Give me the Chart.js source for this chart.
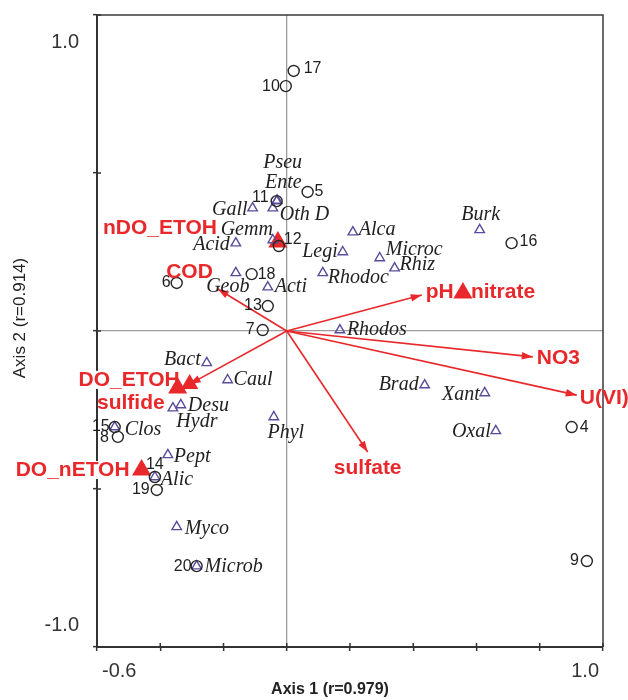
<!DOCTYPE html>
<html>
<head>
<meta charset="utf-8">
<script src="https://cdn.jsdelivr.net/npm/chart.js@4.4.1/dist/chart.umd.min.js"></script>
<style>
html,body{margin:0;padding:0;background:#fff;}
#wrap{width:628px;height:700px;}
</style>
</head>
<body>
<div id="wrap"><canvas id="c" width="628" height="700"></canvas></div>
<script>
// ---- data ----
const siteLabels = ['4','5','6','7','8','9','10','11','12','13','14','15','16','17','18','19','20'];
const siteX = [0.901, 0.066, -0.348, -0.076, -0.534, 0.949, -0.003, -0.032, -0.025, -0.060, -0.417, -0.544, 0.711, 0.022, -0.111, -0.411, -0.285];
const siteY = [-0.304, 0.440, 0.152, 0.003, -0.335, -0.728, 0.775, 0.411, 0.269, 0.079, -0.462, -0.304, 0.278, 0.823, 0.180, -0.503, -0.744];

const speciesLabels = ['Pseu','Ente','Gall','Oth D','Gemm','Acid','Legi','Alca','Microc','Rhiz','Rhodoc','Burk','Geob','Acti','Rhodos','Bact','Caul','Desu','Hydr','Phyl','Clos','Pept','Alic','Myco','Microb','Brad','Xant','Oxal'];
const speciesX = [-0.032, -0.030, -0.108, -0.044, -0.044, -0.161, 0.177, 0.209, 0.294, 0.341, 0.114, 0.610, -0.161, -0.060, 0.168, -0.253, -0.187, -0.335, -0.360, -0.041, -0.544, -0.376, -0.417, -0.348, -0.285, 0.436, 0.626, 0.661];
const speciesY = [0.411, 0.413, 0.389, 0.389, 0.288, 0.278, 0.250, 0.313, 0.231, 0.199, 0.184, 0.320, 0.184, 0.139, 0.003, -0.101, -0.155, -0.234, -0.244, -0.272, -0.304, -0.392, -0.462, -0.620, -0.744, -0.171, -0.196, -0.316];

const arrowLabels = ['COD','pH','NO3','U(VI)','sulfate','sulfide'];
const arrowX = [-0.218, 0.427, 0.778, 0.917, 0.256, -0.307];
const arrowY = [0.133, 0.114, -0.082, -0.203, -0.383, -0.168];
const filledTipArrows = ['sulfide'];

const centroidLabels = ['nDO_ETOH','nitrate','DO_ETOH','DO_nETOH'];
const centroidX = [-0.028, 0.557, -0.345, -0.459];
const centroidY = [0.282, 0.120, -0.180, -0.440];

const xTickLabels = ['-0.6','1.0'];
const yTickLabels = ['1.0','-1.0'];
const xAxisTitle = 'Axis 1 (r=0.979)';
const yAxisTitle = 'Axis 2 (r=0.914)';

// ---- label layout (pixel offsets from each mark) ----
const siteLabelPos = {
  '4':[8,1,'left'], '5':[7,0,'left'], '6':[-6,0,'right'], '7':[-8,0,'right'], '8':[-9,1,'right'],
  '9':[-8,0,'right'], '10':[-6,0,'right'], '11':[-8,-4,'right'], '12':[5,-6,'left'], '13':[-6,0,'right'],
  '14':[0,-12,'center'], '15':[-5,0,'right'], '16':[8,-2,'left'], '17':[10,-2,'left'], '18':[6,0,'left'],
  '19':[-7,0,'right'], '20':[-5,0,'right']
};
const speciesLabelPos = {
  'Pseu':[6,-38,'center'], 'Ente':[6,-18,'center'], 'Gall':[-5,2,'right'], 'Oth D':[7,7,'left'],
  'Gemm':[0,-10,'right'], 'Acid':[-6,2,'right'], 'Legi':[-5,0,'right'], 'Alca':[6,-2,'left'],
  'Microc':[6,-8,'left'], 'Rhiz':[5,-3,'left'], 'Rhodoc':[5,5,'left'], 'Burk':[1,-15,'center'],
  'Geob':[-8,14,'center'], 'Acti':[7,0,'left'], 'Rhodos':[7,0,'left'], 'Bact':[-6,-3,'right'],
  'Caul':[6,0,'left'], 'Desu':[7,1,'left'], 'Hydr':[24,14,'center'], 'Phyl':[12,16,'center'],
  'Clos':[10,3,'left'], 'Pept':[6,2,'left'], 'Alic':[6,3,'left'], 'Myco':[8,2,'left'],
  'Microb':[8,1,'left'], 'Brad':[-6,0,'right'], 'Xant':[-5,2,'right'], 'Oxal':[-5,1,'right']
};
const arrowLabelPos = {
  'COD':[-5,-17,'right'], 'pH':[4,-3,'left'], 'NO3':[4,1,'left'], 'U(VI)':[3,3,'left'],
  'sulfate':[0,16,'center'], 'sulfide':[-25,19,'right']
};
const centroidLabelPos = {
  'nDO_ETOH':[-61,-14,'right'], 'nitrate':[8,-1,'left'], 'DO_ETOH':[2,-8,'right'], 'DO_nETOH':[-12,0,'right']
};
const whiteBacked = ['DO_ETOH','DO_nETOH'];

const RED = '#e8282b';
const PURPLE = '#5a4c9c';
const SANS = '"Liberation Sans", Arial, sans-serif';
const SERIF = '"Liberation Serif", "Times New Roman", serif';
const ENV_FONT = 'bold 21px ' + SANS;

const toPts = (xs, ys) => xs.map((x, i) => ({x: x, y: ys[i]}));

const datasets = [];
datasets.push({label:'sites', data: toPts(siteX, siteY), pointStyle:'circle', pointRadius:5.5, pointHoverRadius:5.5,
  borderColor:'#262626', backgroundColor:'rgba(0,0,0,0)', borderWidth:1.4});
datasets.push({label:'species', data: toPts(speciesX, speciesY), pointStyle:'triangle', pointRadius:5.5, pointHoverRadius:5.5,
  borderColor:PURPLE, backgroundColor:'rgba(0,0,0,0)', borderWidth:1.4});
datasets.push({label:'centroids', data: toPts(centroidX, centroidY), pointStyle:'triangle', pointRadius:11, pointHoverRadius:11,
  borderColor:RED, backgroundColor:RED, borderWidth:0});
const tipIdx = arrowLabels.map((n, i) => i).filter(i => filledTipArrows.includes(arrowLabels[i]));
datasets.push({label:'tips', data: tipIdx.map(i => ({x: arrowX[i], y: arrowY[i]})), pointStyle:'triangle', pointRadius:10, pointHoverRadius:10,
  borderColor:RED, backgroundColor:RED, borderWidth:0});
const arrowStart = datasets.length;
arrowLabels.forEach((name, i) => {
  datasets.push({label:'arrow:' + name, data:[{x:0, y:0}, {x: arrowX[i], y: arrowY[i]}], showLine:true,
    borderColor:RED, borderWidth:1.6, pointRadius:0, pointHoverRadius:0, fill:false});
});

const isZero = v => Math.abs(v) < 1e-9;

const decorPlugin = {
  id: 'decor',
  beforeDatasetsDraw(chart) {
    const {ctx, chartArea: a, scales} = chart;
    ctx.save();
    ctx.strokeStyle = '#3a3a3a';
    ctx.lineWidth = 1.5;
    ctx.beginPath();
    ctx.moveTo(a.left, a.top); ctx.lineTo(a.right, a.top); ctx.lineTo(a.right, a.bottom);
    ctx.stroke();
    ctx.strokeStyle = '#333';
    ctx.lineWidth = 1.5;
    scales.x.ticks.forEach(t => {
      const px = scales.x.getPixelForValue(t.value);
      ctx.beginPath(); ctx.moveTo(px, a.bottom); ctx.lineTo(px, a.bottom - 4); ctx.stroke();
    });
    scales.y.ticks.forEach(t => {
      const py = scales.y.getPixelForValue(t.value);
      ctx.beginPath(); ctx.moveTo(a.left, py); ctx.lineTo(a.left + 4, py); ctx.stroke();
    });
    // white backing boxes under some labels (drawn below the marks)
    ctx.font = ENV_FONT;
    const meta = chart.getDatasetMeta(2);
    centroidLabels.forEach((n, j) => {
      if (!whiteBacked.includes(n)) return;
      const el = meta.data[j];
      const p = centroidLabelPos[n];
      const w = ctx.measureText(n).width;
      const x = el.x + p[0], y = el.y + p[1];
      const x0 = p[2] === 'right' ? x - w : (p[2] === 'center' ? x - w / 2 : x);
      ctx.fillStyle = '#fff';
      ctx.fillRect(x0 - 1, y - 9, w + 2, 18);
    });
    ctx.restore();
  },
  afterDatasetsDraw(chart) {
    const {ctx} = chart;
    ctx.save();
    for (let i = 0; i < arrowLabels.length; i++) {
      const meta = chart.getDatasetMeta(arrowStart + i);
      const p0 = meta.data[0], p1 = meta.data[1];
      const ang = Math.atan2(p1.y - p0.y, p1.x - p0.x);
      const L = 11, W = 3.8;
      ctx.fillStyle = RED;
      ctx.beginPath();
      ctx.moveTo(p1.x, p1.y);
      ctx.lineTo(p1.x - L * Math.cos(ang) + W * Math.sin(ang), p1.y - L * Math.sin(ang) - W * Math.cos(ang));
      ctx.lineTo(p1.x - L * Math.cos(ang) - W * Math.sin(ang), p1.y - L * Math.sin(ang) + W * Math.cos(ang));
      ctx.closePath();
      ctx.fill();
    }
    ctx.textBaseline = 'middle';
    const drawGroup = (metaIdx, names, pos, font, color) => {
      const meta = chart.getDatasetMeta(metaIdx);
      ctx.font = font; ctx.fillStyle = color;
      names.forEach((n, j) => {
        const el = meta.data[j];
        const p = pos[n] || [6, 0, 'left'];
        ctx.textAlign = p[2];
        ctx.fillText(n, el.x + p[0], el.y + p[1]);
      });
    };
    drawGroup(0, siteLabels, siteLabelPos, '16px ' + SANS, '#1e1e1e');
    drawGroup(1, speciesLabels, speciesLabelPos, 'italic 20px ' + SERIF, '#222');
    drawGroup(2, centroidLabels, centroidLabelPos, ENV_FONT, RED);
    ctx.font = ENV_FONT; ctx.fillStyle = RED;
    arrowLabels.forEach((n, i) => {
      const el = chart.getDatasetMeta(arrowStart + i).data[1];
      const p = arrowLabelPos[n] || [6, 0, 'left'];
      ctx.textAlign = p[2];
      ctx.fillText(n, el.x + p[0], el.y + p[1]);
    });
    ctx.restore();
  },
  afterDraw(chart) {
    const {ctx, chartArea: a, scales} = chart;
    ctx.save();
    ctx.fillStyle = '#333';
    ctx.font = '20px ' + SANS;
    ctx.textBaseline = 'middle';
    xTickLabels.forEach(s => {
      const v = parseFloat(s);
      const px = scales.x.getPixelForValue(v);
      if (v <= scales.x.min + 1e-9) { ctx.textAlign = 'left'; ctx.fillText(s, px + 5, a.bottom + 24); }
      else { ctx.textAlign = 'right'; ctx.fillText(s, px - 4, a.bottom + 24); }
    });
    yTickLabels.forEach(s => {
      const v = parseFloat(s);
      const py = scales.y.getPixelForValue(v);
      ctx.textAlign = 'right';
      ctx.fillText(s, a.left - 18, v >= scales.y.max - 1e-9 ? py + 27 : py - 22);
    });
    ctx.fillStyle = '#222';
    ctx.font = 'bold 16px ' + SANS;
    ctx.textAlign = 'center';
    ctx.fillText(xAxisTitle, (a.left + a.right) / 2 - 20, a.bottom + 43);
    ctx.translate(20, (a.top + a.bottom) / 2 - 13);
    ctx.rotate(-Math.PI / 2);
    ctx.font = '17px ' + SANS;
    ctx.fillText(yAxisTitle, 0, 0);
    ctx.restore();
  }
};

new Chart(document.getElementById('c'), {
  type: 'scatter',
  data: {datasets: datasets},
  options: {
    responsive: false,
    animation: false,
    devicePixelRatio: 1,
    layout: {padding: {top: 15, right: 25, left: 0, bottom: 0}},
    plugins: {legend: {display: false}, tooltip: {enabled: false}},
    events: [],
    scales: {
      x: {
        type: 'linear', min: -0.6, max: 1.0,
        ticks: {stepSize: 0.2, display: false},
        grid: {
          drawOnChartArea: true, drawTicks: true, tickLength: 4, tickWidth: 1.5, tickColor: '#333',
          lineWidth: 1.3,
          color: c => (c.tick && isZero(c.tick.value)) ? '#9b9b9b' : 'rgba(0,0,0,0)'
        },
        border: {display: true, color: '#333', width: 2},
        afterFit: s => { s.height = 53; }
      },
      y: {
        type: 'linear', min: -1.0, max: 1.0,
        ticks: {stepSize: 0.5, display: false},
        grid: {
          drawOnChartArea: true, drawTicks: true, tickLength: 4, tickWidth: 1.5, tickColor: '#333',
          lineWidth: 1.3,
          color: c => (c.tick && isZero(c.tick.value)) ? '#9b9b9b' : 'rgba(0,0,0,0)'
        },
        border: {display: true, color: '#333', width: 2},
        afterFit: s => { s.width = 97; }
      }
    }
  },
  plugins: [decorPlugin]
});
</script>
</body>
</html>
